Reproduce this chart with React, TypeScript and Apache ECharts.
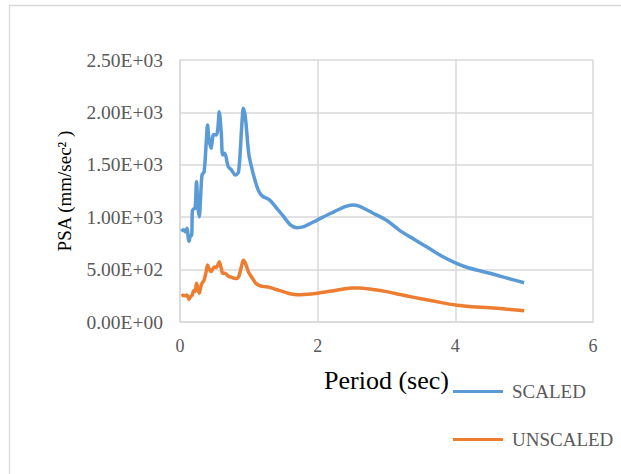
import React, { useEffect, useRef } from "react";
import * as echarts from "echarts";

const periods = [0.02, 0.05, 0.08, 0.1, 0.13, 0.15, 0.17, 0.18, 0.2, 0.22, 0.24, 0.26, 0.28, 0.3, 0.32, 0.35, 0.38, 0.4, 0.42, 0.45, 0.48, 0.5, 0.53, 0.55, 0.57, 0.6, 0.62, 0.65, 0.7, 0.75, 0.8, 0.85, 0.9, 0.92, 0.95, 1.0, 1.05, 1.1, 1.15, 1.2, 1.3, 1.4, 1.5, 1.6, 1.7, 1.8, 2.0, 2.2, 2.4, 2.5, 2.6, 2.8, 3.0, 3.2, 3.4, 3.6, 3.8, 4.0, 4.2, 4.5, 4.8, 5.0];

const scaled = [865, 880, 860, 895, 770, 820, 830, 1060, 1080, 1085, 1339, 1100, 1005, 1200, 1403, 1434, 1700, 1880, 1750, 1657, 1780, 1790, 1784, 1850, 2007, 1800, 1594, 1610, 1482, 1450, 1403, 1430, 1900, 2039, 1950, 1600, 1450, 1330, 1240, 1200, 1165, 1090, 1010, 930, 900, 910, 975, 1040, 1100, 1116, 1105, 1040, 970, 870, 790, 710, 630, 565, 515, 465, 410, 375];

const unscaled = [250, 255, 250, 258, 215, 240, 250, 260, 300, 290, 370, 320, 275, 330, 370, 400, 480, 545, 510, 480, 510, 525, 520, 545, 575, 510, 465, 465, 440, 426, 415, 430, 550, 590, 560, 470, 420, 370, 350, 340, 330, 310, 290, 270, 260, 262, 275, 295, 318, 325, 325, 310, 290, 262, 235, 210, 185, 162, 148, 135, 120, 108];

const seriesNames = ["SCALED", "UNSCALED"];
const xTitle = "Period (sec)";
const yTitle = "PSA (mm/sec² )";

function sci(v: number): string {
  if (v === 0) return "0.00E+00";
  const e = Math.floor(Math.log10(Math.abs(v)));
  const m = v / Math.pow(10, e);
  const es = (e < 0 ? "-" : "+") + String(Math.abs(e)).padStart(2, "0");
  return m.toFixed(2) + "E" + es;
}

export default function App() {
  const ref = useRef<HTMLDivElement>(null);
  useEffect(() => {
    if (!ref.current) return;
    const chart = echarts.init(ref.current, undefined, { renderer: "svg" });
    const font = "'Liberation Serif', 'Times New Roman', serif";
    const grid = "#d9d9d9";
    chart.setOption({
      animation: false,
      backgroundColor: "#ffffff",
      textStyle: { fontFamily: font },
      graphic: [
        {
          type: "rect",
          shape: { x: 9.5, y: 5.5, width: 640, height: 500 },
          style: { fill: "none", stroke: grid, lineWidth: 1.3 },
          silent: true,
        },
      ],
      grid: { left: 180, top: 60, width: 413, height: 262 },
      legend: {
        orient: "vertical",
        left: 448,
        top: 377,
        itemWidth: 50,
        itemHeight: 3,
        itemGap: 29,
        icon: "rect",
        textStyle: { fontFamily: font, fontSize: 19, color: "#595959", padding: [0, 0, 0, 4] },
        data: seriesNames,
      },
      xAxis: {
        type: "value",
        min: 0,
        max: 6,
        interval: 2,
        name: xTitle,
        nameLocation: "middle",
        nameGap: 45,
        nameTextStyle: { fontFamily: font, fontSize: 26, color: "#000000" },
        axisLine: { show: true, lineStyle: { color: grid, width: 1.5 } },
        axisTick: { show: false },
        axisLabel: { fontFamily: font, fontSize: 18, color: "#595959", margin: 15 },
        splitLine: { show: true, lineStyle: { color: grid, width: 1.5 } },
      },
      yAxis: {
        type: "value",
        min: 0,
        max: 2500,
        interval: 500,
        name: yTitle,
        nameLocation: "middle",
        nameRotate: 90,
        nameGap: 106,
        nameTextStyle: { fontFamily: font, fontSize: 19, color: "#000000" },
        axisLine: { show: true, lineStyle: { color: grid, width: 1.5 } },
        axisTick: { show: false },
        axisLabel: { fontFamily: font, fontSize: 19.5, color: "#595959", margin: 17, formatter: (v: number) => sci(v) },
        splitLine: { show: true, lineStyle: { color: grid, width: 1.5 } },
      },
      series: [
        {
          name: seriesNames[0],
          type: "line",
          data: periods.map((p, i) => [p, scaled[i]]),
          showSymbol: false,
          smooth: 0.3,
          lineStyle: { color: "#5B9BD5", width: 3.5 },
          itemStyle: { color: "#5B9BD5" },
        },
        {
          name: seriesNames[1],
          type: "line",
          data: periods.map((p, i) => [p, unscaled[i]]),
          showSymbol: false,
          smooth: 0.3,
          lineStyle: { color: "#ED7D31", width: 3.5 },
          itemStyle: { color: "#ED7D31" },
        },
      ],
    });
    return () => chart.dispose();
  }, []);
  return (
    <div
      ref={ref}
      style={{ position: "fixed", left: 0, top: 0, width: 621, height: 474, background: "#fff" }}
    />
  );
}
